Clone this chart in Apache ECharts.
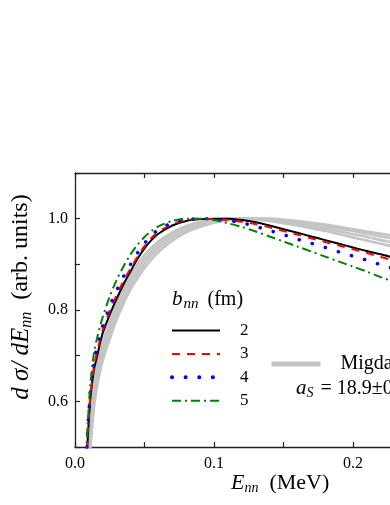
<!DOCTYPE html>
<html>
<head>
<meta charset="utf-8">
<script src="https://cdn.jsdelivr.net/npm/echarts@6/dist/echarts.min.js"></script>
<style>
html,body{margin:0;padding:0;background:#fff;}
#chart{width:390px;height:505px;}
</style>
</head>
<body>
<div id="chart"></div>
<script>
// Energy grid E_nn (MeV)
const energies = [0.008, 0.009, 0.01, 0.011, 0.0125, 0.014, 0.016, 0.018, 0.02, 0.025, 0.03, 0.035, 0.04, 0.045, 0.05, 0.055, 0.06, 0.07, 0.08, 0.09, 0.1, 0.11, 0.12, 0.13, 0.14, 0.15, 0.16, 0.17, 0.18, 0.19, 0.2, 0.21, 0.22, 0.23, 0.24, 0.26, 0.28, 0.3];

// b_nn = 2 fm (black solid)
const bnn2 = [0.45, 0.51, 0.56, 0.605, 0.645, 0.675, 0.70, 0.727, 0.75, 0.79, 0.825, 0.857, 0.885, 0.912, 0.935, 0.953, 0.967, 0.985, 0.995, 0.999, 1.0, 1.0, 0.997, 0.992, 0.985, 0.977, 0.969, 0.961, 0.953, 0.945, 0.937, 0.929, 0.922, 0.914, 0.906, 0.89, 0.874, 0.858];
// b_nn = 3 fm (red dashed)
const bnn3 = [0.46, 0.52, 0.568, 0.61, 0.652, 0.683, 0.71, 0.735, 0.757, 0.798, 0.833, 0.864, 0.891, 0.917, 0.94, 0.958, 0.971, 0.988, 0.997, 1.0, 0.999, 0.997, 0.993, 0.988, 0.981, 0.973, 0.965, 0.957, 0.949, 0.941, 0.933, 0.925, 0.916, 0.908, 0.9, 0.883, 0.866, 0.85];
// b_nn = 4 fm (blue dotted)
const bnn4 = [0.47, 0.53, 0.578, 0.62, 0.662, 0.693, 0.72, 0.745, 0.766, 0.808, 0.843, 0.874, 0.9, 0.925, 0.946, 0.963, 0.976, 0.991, 0.998, 1.0, 0.999, 0.996, 0.991, 0.983, 0.974, 0.965, 0.955, 0.946, 0.937, 0.927, 0.918, 0.909, 0.899, 0.89, 0.88, 0.862, 0.843, 0.824];
// b_nn = 5 fm (green dash-dot)
const bnn5 = [0.48, 0.545, 0.593, 0.635, 0.68, 0.712, 0.74, 0.764, 0.785, 0.83, 0.866, 0.896, 0.922, 0.943, 0.96, 0.973, 0.983, 0.995, 1.0, 1.0, 0.997, 0.99, 0.982, 0.972, 0.961, 0.95, 0.939, 0.928, 0.917, 0.906, 0.895, 0.884, 0.872, 0.861, 0.85, 0.828, 0.806, 0.784];
// Migdal-Watson curves (gray band)
const mwA = [0.36, 0.44, 0.51, 0.565, 0.615, 0.65, 0.682, 0.708, 0.73, 0.775, 0.815, 0.848, 0.876, 0.9, 0.92, 0.936, 0.95, 0.97, 0.984, 0.993, 0.998, 1.0, 1.0, 0.998, 0.995, 0.99, 0.985, 0.979, 0.973, 0.966, 0.959, 0.952, 0.945, 0.938, 0.931, 0.917, 0.903, 0.889];
const mwB = [0.33, 0.41, 0.48, 0.54, 0.595, 0.633, 0.667, 0.694, 0.717, 0.763, 0.803, 0.837, 0.866, 0.89, 0.911, 0.928, 0.943, 0.965, 0.98, 0.99, 0.996, 0.999, 1.0, 0.999, 0.997, 0.993, 0.989, 0.984, 0.978, 0.972, 0.966, 0.96, 0.953, 0.947, 0.94, 0.927, 0.914, 0.901];
const mwC = [0.30, 0.38, 0.45, 0.515, 0.573, 0.614, 0.65, 0.679, 0.703, 0.75, 0.791, 0.826, 0.855, 0.88, 0.902, 0.92, 0.935, 0.959, 0.975, 0.986, 0.994, 0.998, 1.0, 1.0, 0.998, 0.995, 0.992, 0.988, 0.983, 0.978, 0.973, 0.967, 0.961, 0.955, 0.949, 0.937, 0.925, 0.913];
const mwD = [0.27, 0.35, 0.42, 0.49, 0.55, 0.595, 0.635, 0.665, 0.69, 0.737, 0.779, 0.815, 0.845, 0.87, 0.892, 0.911, 0.927, 0.952, 0.97, 0.982, 0.991, 0.996, 0.999, 1.0, 1.0, 0.998, 0.995, 0.991, 0.987, 0.982, 0.977, 0.972, 0.967, 0.962, 0.957, 0.946, 0.935, 0.924];

const xTickLabels = ['0.0', '0.1', '0.2'];
const yTickLabels = ['0.6', '0.8', '1.0'];
const legendNames = ['2', '3', '4', '5'];
const mwName = 'Migdal-Watson';

const FONT = 'Liberation Serif';
const pairs = vals => energies.map((e, i) => [e, vals[i]]);

const gray = '#c4c4c4';
const mwSeries = [mwA, mwB, mwC, mwD].map(v => ({
  name: mwName, type: 'line', data: pairs(v), symbol: 'none', smooth: 0.3,
  lineStyle: {color: gray, width: 2.6}, itemStyle: {color: gray}, z: 1
}));

const chart = echarts.init(document.getElementById('chart'), null, {renderer: 'canvas'});
const axisLine = {show: true, lineStyle: {color: '#222', width: 1.3}};
const hiddenSymbol = {color: 'rgba(0,0,0,0)', borderColor: 'rgba(0,0,0,0)', borderWidth: 0};
const option = {
  animation: false,
  backgroundColor: '#fff',
  grid: {left: 75, top: 173, width: 417, height: 274, outerBoundsMode: 'none', containLabel: false},
  xAxis: [{
    type: 'value', min: 0, max: 0.3, interval: 0.05, position: 'bottom',
    axisLine: axisLine, splitLine: {show: false},
    axisTick: {inside: true, length: 5, lineStyle: {color: '#222', width: 1.2}},
    axisLabel: {margin: 9, fontFamily: FONT, fontSize: 16, color: '#000',
      formatter: v => { const s = v.toFixed(1); return (xTickLabels.includes(s) && Math.abs(v * 10 - Math.round(v * 10)) < 1e-6) ? s : ''; }}
  }, {
    type: 'value', min: 0, max: 0.3, interval: 0.05, position: 'top',
    axisLine: axisLine, splitLine: {show: false},
    axisTick: {inside: true, length: 5, lineStyle: {color: '#222', width: 1.2}},
    axisLabel: {show: false}
  }],
  yAxis: [{
    type: 'value', min: 0.5, max: 1.1, interval: 0.1,
    axisLine: axisLine, splitLine: {show: false},
    axisTick: {inside: true, length: 5, lineStyle: {color: '#222', width: 1.2}},
    axisLabel: {margin: 7, fontFamily: FONT, fontSize: 16, color: '#000',
      formatter: v => { const s = v.toFixed(1); return yTickLabels.includes(s) ? s : ''; }}
  }],
  legend: [{
    data: legendNames.map(n => n === '4' ? {name: n, lineStyle: {width: 4}} : {name: n}),
    orient: 'vertical', left: 170, top: 322, padding: 0,
    itemWidth: 48, itemHeight: 14, itemGap: 6.4, selectedMode: false,
    itemStyle: hiddenSymbol,
    textStyle: {fontFamily: FONT, fontSize: 17, color: '#000', lineHeight: 14, padding: [0, 0, 0, 15]}
  }, {
    data: [mwName], orient: 'vertical', left: 269, top: 354, padding: 0,
    itemWidth: 49, itemHeight: 14, selectedMode: false,
    itemStyle: hiddenSymbol,
    lineStyle: {width: 5},
    textStyle: {fontFamily: FONT, fontSize: 20, color: '#000', lineHeight: 14, padding: [0, 0, 0, 15]}
  }],
  graphic: [{
    type: 'text', left: 172, top: 289,
    style: {
      text: '{i|b}{s|nn}{n|(fm)}', fill: '#000',
      rich: {
        i: {fontFamily: FONT, fontStyle: 'italic', fontSize: 21, lineHeight: 24, verticalAlign: 'middle'},
        s: {fontFamily: FONT, fontStyle: 'italic', fontSize: 15, lineHeight: 9, verticalAlign: 'bottom', padding: [0, 9, 0, 1]},
        n: {fontFamily: FONT, fontSize: 20, lineHeight: 24, verticalAlign: 'middle'}
      }
    }
  }, {
    type: 'text', left: 296, top: 378,
    style: {
      text: '{i|a}{s|S}{n| = 18.9±0.4 fm}', fill: '#000',
      rich: {
        i: {fontFamily: FONT, fontStyle: 'italic', fontSize: 21, lineHeight: 24, verticalAlign: 'middle'},
        s: {fontFamily: FONT, fontStyle: 'italic', fontSize: 14, lineHeight: 9, verticalAlign: 'bottom', padding: [0, 2, 0, 0]},
        n: {fontFamily: FONT, fontSize: 20, lineHeight: 24, verticalAlign: 'middle'}
      }
    }
  }, {
    type: 'text', left: 231, top: 472,
    style: {
      text: '{i|E}{s|nn}{n|  (MeV)}', fill: '#000',
      rich: {
        i: {fontFamily: FONT, fontStyle: 'italic', fontSize: 22, lineHeight: 24, verticalAlign: 'middle'},
        s: {fontFamily: FONT, fontStyle: 'italic', fontSize: 14, lineHeight: 9, verticalAlign: 'bottom'},
        n: {fontFamily: FONT, fontSize: 22, lineHeight: 24, verticalAlign: 'middle'}
      }
    }
  }, {
    type: 'text', x: 21, y: 297, rotation: Math.PI / 2,
    style: {
      text: '{i|d σ/ dE}{s|nn}{n|  (arb. units)}', fill: '#000', align: 'center', verticalAlign: 'middle',
      rich: {
        i: {fontFamily: FONT, fontStyle: 'italic', fontSize: 25, lineHeight: 27, verticalAlign: 'middle'},
        s: {fontFamily: FONT, fontStyle: 'italic', fontSize: 16, lineHeight: 9, verticalAlign: 'bottom'},
        n: {fontFamily: FONT, fontSize: 24, lineHeight: 27, verticalAlign: 'middle'}
      }
    }
  }],
  series: mwSeries.concat([
    {name: '2', type: 'line', data: pairs(bnn2), symbol: 'none', smooth: 0.3, z: 5,
      lineStyle: {color: '#000', width: 2}, itemStyle: {color: '#000'}},
    {name: '3', type: 'line', data: pairs(bnn3), symbol: 'none', smooth: 0.3, z: 5,
      lineStyle: {color: '#ff0000', width: 2, type: [8, 7]}, itemStyle: {color: '#ff0000'}},
    {name: '4', type: 'line', data: pairs(bnn4), symbol: 'none', smooth: 0.3, z: 5,
      lineStyle: {color: '#0000ff', width: 3.5, type: [0.1, 13.5], cap: 'round'}, itemStyle: {color: '#0000ff'}},
    {name: '5', type: 'line', data: pairs(bnn5), symbol: 'none', smooth: 0.3, z: 5,
      lineStyle: {color: '#008000', width: 2, type: [9, 4, 2, 4]}, itemStyle: {color: '#008000'}}
  ])
};
chart.setOption(option);
</script>
</body>
</html>
